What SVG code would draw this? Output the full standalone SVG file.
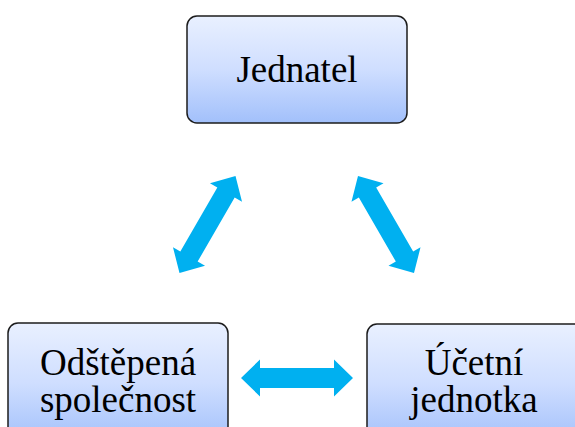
<svg xmlns="http://www.w3.org/2000/svg" width="575" height="427" viewBox="0 0 575 427">
  <style>
    .box { fill: url(#boxFill); stroke: #1c1c1c; stroke-width: 1.5; }
    .label { font-family: "Times New Roman", Times, "Liberation Serif", "DejaVu Serif", "Noto Serif", serif; font-size: 37px; fill: #000; text-anchor: middle; }
    .arrow { fill: #00B0F0; }
  </style>
  <defs>
    <linearGradient id="boxFill" x1="0" y1="0" x2="0" y2="1">
      <stop offset="0" stop-color="#e9f0ff"/>
      <stop offset="0.5" stop-color="#cfdeff"/>
      <stop offset="1" stop-color="#a2c0fb"/>
    </linearGradient>
    <!-- double-headed block arrow centred on the origin, pointing along x -->
    <path id="dblArrow" d="M-56,0 L-37,-18.5 L-37,-10 L37,-10 L37,-18.5 L56,0 L37,18.5 L37,10 L-37,10 L-37,18.5 Z"/>
  </defs>

  <g id="jednatel">
    <rect class="box" x="187" y="16" width="220" height="107" rx="10"/>
    <text class="label" x="297" y="82">Jednatel</text>
  </g>

  <g id="odstepena-spolecnost">
    <rect class="box" x="8" y="323" width="220" height="120" rx="10"/>
    <text class="label" x="118" y="375">Odštěpená</text>
    <text class="label" x="118" y="412">společnost</text>
  </g>

  <g id="ucetni-jednotka">
    <rect class="box" x="367" y="324" width="230" height="120" rx="10"/>
    <text class="label" x="474" y="375">Účetní</text>
    <text class="label" x="474" y="412">jednotka</text>
  </g>

  <g id="connectors">
    <use href="#dblArrow" class="arrow" transform="translate(207.5,224.5) rotate(-60)"/>
    <use href="#dblArrow" class="arrow" transform="translate(386,224.5) rotate(60)"/>
    <use href="#dblArrow" class="arrow" transform="translate(297,378)"/>
  </g>
</svg>
